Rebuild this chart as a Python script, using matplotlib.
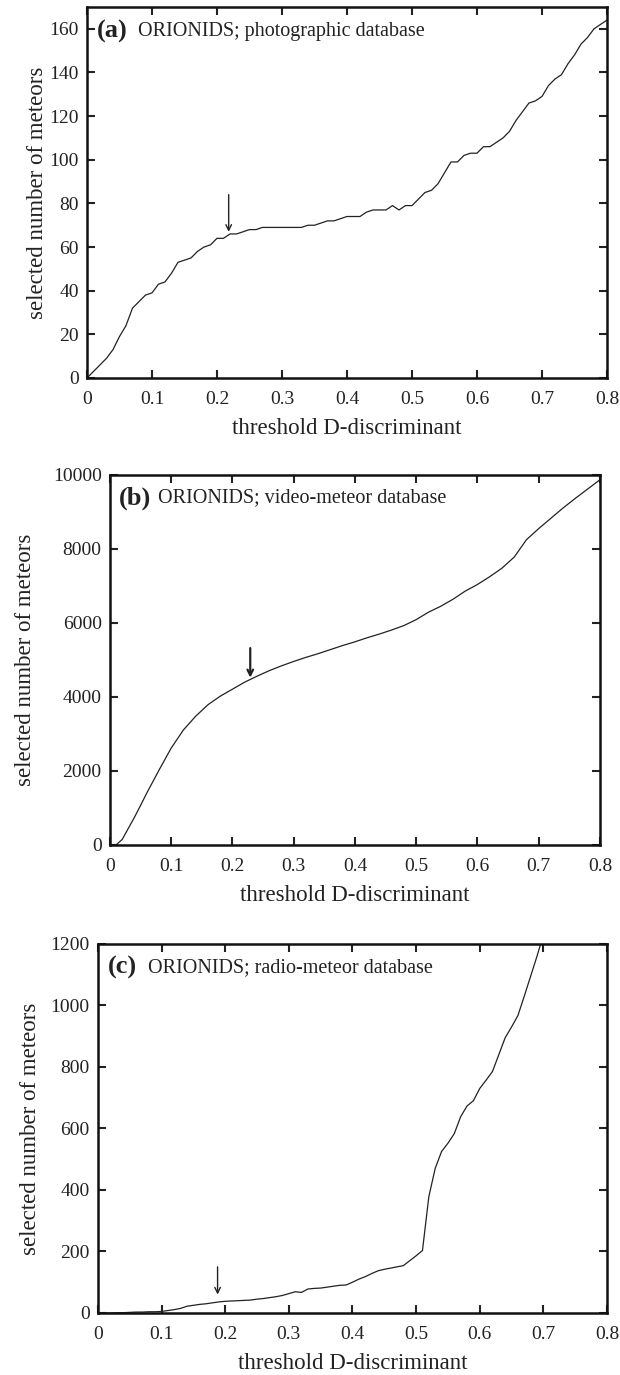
import matplotlib
matplotlib.use("Agg")
import matplotlib.pyplot as plt
import numpy as np

plt.rcParams['font.family'] = ['Liberation Serif', 'DejaVu Serif']

# (a) photographic database, threshold step 0.01
photo_d = np.round(np.arange(0, 0.801, 0.01), 2)
photo_n = [0, 3, 6, 9, 13, 19, 24, 32, 35, 38,
           39, 43, 44, 48, 53, 54, 55, 58, 60, 61,
           64, 64, 66, 66, 67, 68, 68, 69, 69, 69,
           69, 69, 69, 69, 70, 70, 71, 72, 72, 73,
           74, 74, 74, 76, 77, 77, 77, 79, 77, 79,
           79, 82, 85, 86, 89, 94, 99, 99, 102, 103,
           103, 106, 106, 108, 110, 113, 118, 122, 126, 127,
           129, 134, 137, 139, 144, 148, 153, 156, 160, 162,
           164]

# (b) video-meteor database
video_d = [0.01, 0.02, 0.03, 0.04, 0.05, 0.06, 0.08, 0.10, 0.12, 0.14,
           0.16, 0.18, 0.20, 0.22, 0.24, 0.26, 0.28, 0.30, 0.32, 0.34,
           0.36, 0.38, 0.40, 0.42, 0.44, 0.46, 0.48, 0.50, 0.52, 0.54,
           0.56, 0.58, 0.60, 0.62, 0.64, 0.66, 0.68, 0.70, 0.72, 0.74,
           0.76, 0.78, 0.80]
video_n = [0, 150, 450, 750, 1070, 1400, 2020, 2620, 3110, 3480,
           3790, 4020, 4210, 4400, 4560, 4710, 4840, 4960, 5070, 5170,
           5280, 5390, 5490, 5600, 5700, 5810, 5930, 6090, 6290, 6450,
           6640, 6860, 7040, 7250, 7480, 7780, 8250, 8550, 8830, 9110,
           9370, 9620, 9870]

# (c) radio-meteor database
radio_d = np.round(np.arange(0, 0.701, 0.01), 2)
radio_n = [0, 0, 0, 1, 1, 2, 3, 3, 4, 4,
           5, 8, 11, 15, 22, 25, 28, 30, 33, 36,
           38, 39, 40, 41, 42, 45, 47, 50, 53, 57,
           63, 69, 67, 78, 80, 81, 84, 87, 90, 91,
           100, 110, 118, 128, 137, 142, 146, 150, 154, 170,
           186, 203, 378, 470, 525, 552, 583, 638, 673, 690,
           730, 757, 785, 840, 895, 930, 967, 1030, 1095, 1160,
           1230]

fig = plt.figure(figsize=(6.2, 13.75), dpi=100)

panels = [
    dict(rect=[0.1403, 0.7251, 0.8387, 0.2698], x=photo_d, y=photo_n,
         ylim=170, yticks=np.arange(0, 161, 20), tag='(a)',
         name='ORIONIDS; photographic database', ty=159,
         arrow=(0.218, 84, 67), alw=1.0, ylx=-0.075),
    dict(rect=[0.1774, 0.3855, 0.7903, 0.2691], x=video_d, y=video_n,
         ylim=10000, yticks=np.arange(0, 10001, 2000), tag='(b)',
         name='ORIONIDS; video-meteor database', ty=9380,
         arrow=(0.229, 5320, 4520), alw=1.6, ylx=-0.151),
    dict(rect=[0.158, 0.0451, 0.821, 0.2684], x=radio_d, y=radio_n,
         ylim=1200, yticks=np.arange(0, 1201, 200), tag='(c)',
         name='ORIONIDS; radio-meteor database', ty=1122,
         arrow=(0.188, 150, 60), alw=1.0, ylx=-0.112),
]

for p in panels:
    ax = fig.add_axes(p['rect'])
    ax.plot(p['x'], p['y'], color='#222222', lw=0.9)
    ax.set_xlim(0, 0.8)
    ax.set_ylim(0, p['ylim'])
    ax.set_xticks(np.arange(0, 0.81, 0.1))
    ax.set_xticklabels(['0', '0.1', '0.2', '0.3', '0.4', '0.5', '0.6', '0.7', '0.8'])
    ax.set_yticks(p['yticks'])
    ax.tick_params(direction='in', length=6, width=1.5, labelsize=14,
                   top=True, right=True, colors='#222222')
    ax.tick_params(axis='x', pad=9.5)
    ax.tick_params(axis='y', pad=6)
    for s in ax.spines.values():
        s.set_linewidth(1.8)
        s.set_color('#111111')
    ax.set_xlabel('threshold D-discriminant', fontsize=16.5, color='#222222')
    ax.set_ylabel('selected number of meteors', fontsize=16.5, color='#222222')
    ax.xaxis.set_label_coords(0.5, -0.108)
    ax.yaxis.set_label_coords(p['ylx'], 0.5)

    ax.text(0.015, p['ty'], p['tag'], fontsize=19, fontweight='bold',
            va='center', ha='left', color='#222222')
    ax.text(0.079, p['ty'], p['name'], fontsize=14.5,
            va='center', ha='left', color='#222222')

    xa, y0, y1 = p['arrow']
    ax.annotate('', xy=(xa, y1), xytext=(xa, y0),
                arrowprops=dict(arrowstyle='->', lw=p['alw'], color='#222222',
                                shrinkA=0, shrinkB=0))

fig.savefig('out.png', dpi=100)
